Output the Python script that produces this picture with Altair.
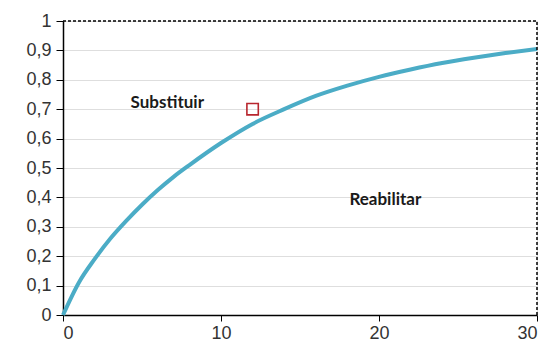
import altair as alt
import pandas as pd

# curve values
xs = [0, 1, 2, 3, 4, 5, 6, 7, 8, 10, 12, 14, 16, 18, 20, 22, 24, 26, 28, 30]
ys = [0.0, 0.11, 0.19, 0.26, 0.32, 0.375, 0.425, 0.47, 0.51, 0.585, 0.65, 0.70,
      0.745, 0.78, 0.81, 0.835, 0.857, 0.875, 0.891, 0.905]

# marker point
pt_x = [12]
pt_y = [0.70]

# annotations
lab_text = ["Substituir", "Reabilitar"]
lab_x = [6.6, 20.4]
lab_y = [0.72, 0.39]

# axis ticks
x_ticks = [0, 10, 20, 30]
y_ticks = [0, 0.1, 0.2, 0.3, 0.4, 0.5, 0.6, 0.7, 0.8, 0.9, 1]

curve = pd.DataFrame({"x": xs, "y": ys})
pts = pd.DataFrame({"x": pt_x, "y": pt_y})
labs = pd.DataFrame({"t": lab_text, "x": lab_x, "y": lab_y})

xscale = alt.Scale(domain=[0, 30], nice=False)
yscale = alt.Scale(domain=[0, 1], nice=False)

ylab = ("datum.value == 0 ? '0' : datum.value == 1 ? '1' : "
        "replace(format(datum.value, '.1f'), '.', ',')")

xaxis = alt.Axis(values=x_ticks, title=None, grid=False,
                 domainColor="black", domainWidth=1.5, tickColor="black",
                 tickSize=6, labelFontSize=18, labelColor="#333333",
                 labelFont="Liberation Sans", labelPadding=3, labelOverlap=False)
yaxis = alt.Axis(values=y_ticks, title=None, grid=True,
                 gridColor="#dedede", gridWidth=1,
                 domainColor="black", domainWidth=1.5, tickColor="black",
                 tickSize=7, labelFontSize=18, labelColor="#333333",
                 labelFont="Liberation Sans", labelPadding=5, labelExpr=ylab,
                 labelOverlap=False)

X = lambda f: alt.X(f, scale=xscale, axis=xaxis)
Y = lambda f: alt.Y(f, scale=yscale, axis=yaxis)

line = alt.Chart(curve).mark_line(color="#4bacc6", strokeWidth=4, interpolate="monotone").encode(
    x=X("x:Q"), y=Y("y:Q"))

top_rule = alt.Chart(pd.DataFrame({"x": [0], "x2": [30], "y": [1]})).mark_rule(
    color="black", strokeDash=[3, 2], strokeWidth=1.5).encode(
    x=X("x:Q"), x2="x2:Q", y=Y("y:Q"))

right_rule = alt.Chart(pd.DataFrame({"x": [30], "y": [0], "y2": [1]})).mark_rule(
    color="black", strokeDash=[3, 2], strokeWidth=1.5).encode(
    x=X("x:Q"), y=Y("y:Q"), y2="y2:Q")

square = alt.Chart(pts).mark_square(filled=False, color="#b8262e", size=130, strokeWidth=1.6,
                                    opacity=1).encode(
    x=X("x:Q"), y=Y("y:Q"))

text = alt.Chart(labs).mark_text(font="Lato", fontWeight="bold", fontSize=17, color="#1a1a1a").encode(
    x=X("x:Q"), y=Y("y:Q"), text="t:N")

chart = alt.layer(line, top_rule, right_rule, square, text).properties(
    width=474, height=294,
    autosize=alt.AutoSizeParams(type="none"),
    padding={"left": 63, "top": 21, "right": 10, "bottom": 36},
).configure_view(stroke=None).configure(background="white")

chart.save("out.html", embed_options={"renderer": "svg", "actions": False})
